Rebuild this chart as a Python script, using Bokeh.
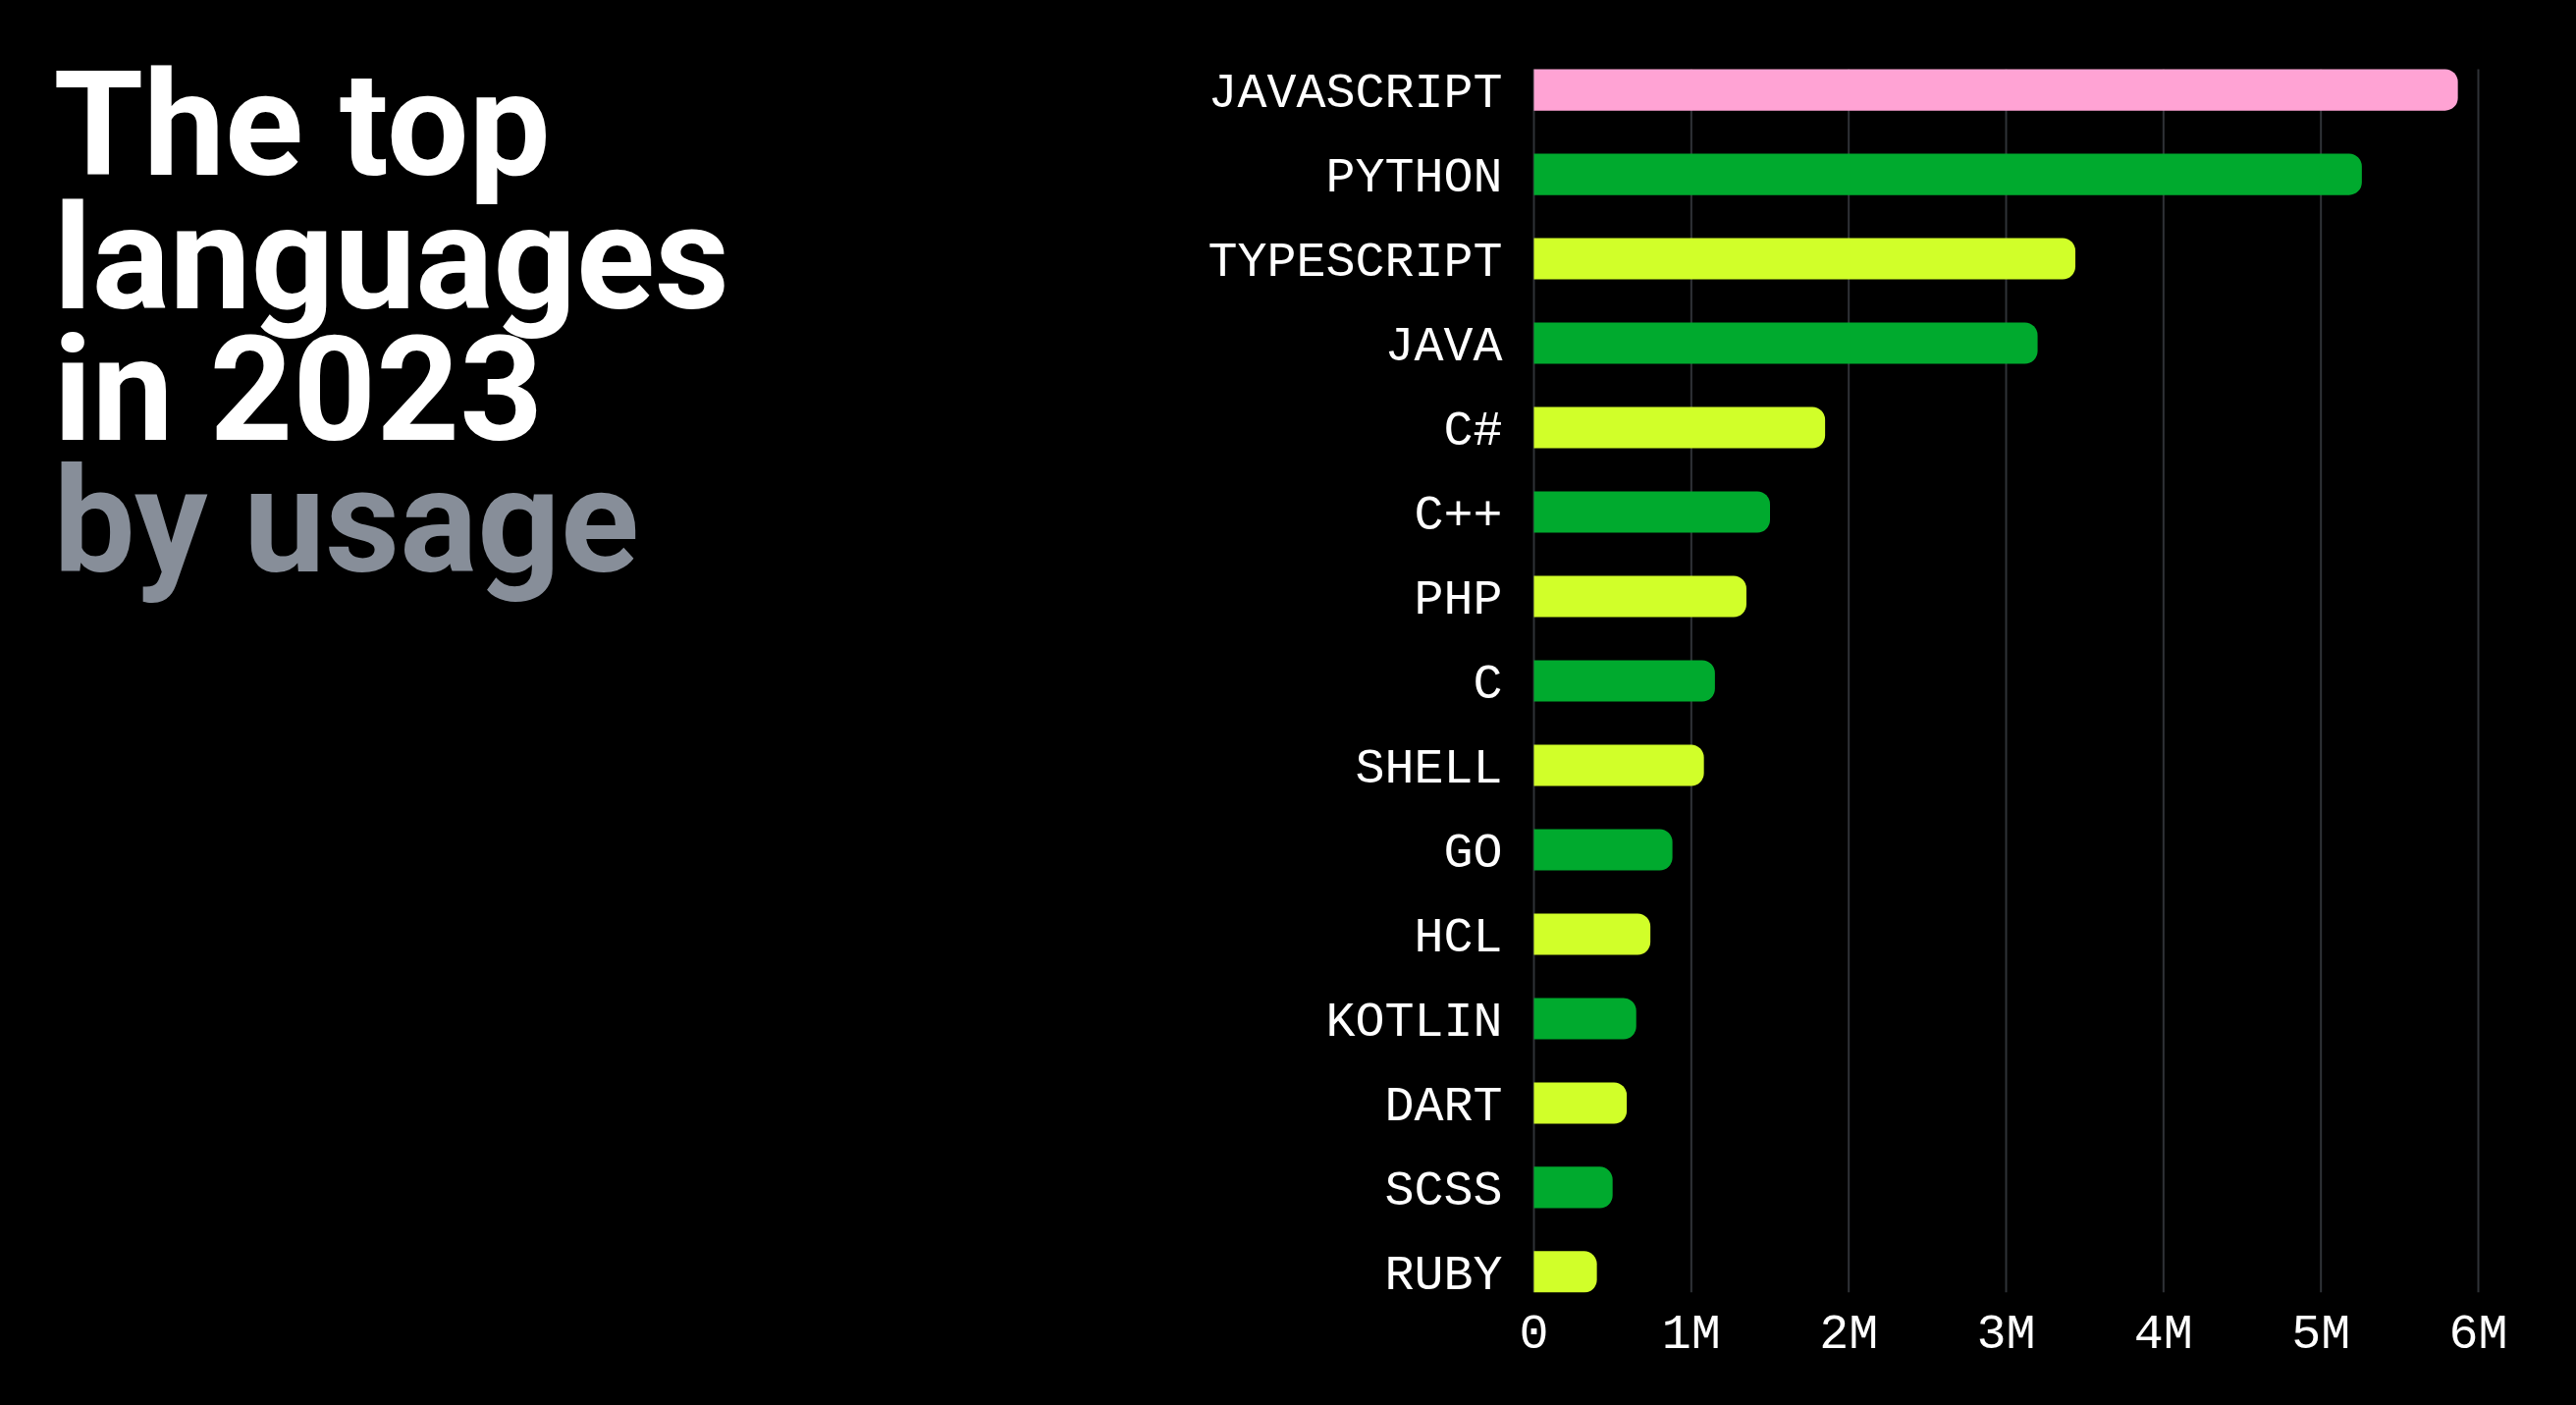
from bokeh.plotting import figure
from bokeh.models import Range1d, FixedTicker, ColumnDataSource, Label
from bokeh.core.properties import value
from bokeh.embed import file_html
from bokeh.resources import INLINE

# ---- data ----
languages = ["JAVASCRIPT", "PYTHON", "TYPESCRIPT", "JAVA", "C#", "C++", "PHP", "C",
             "SHELL", "GO", "HCL", "KOTLIN", "DART", "SCSS", "RUBY"]
usage_millions = [5.87, 5.26, 3.44, 3.20, 1.85, 1.50, 1.35, 1.15,
                  1.08, 0.88, 0.74, 0.65, 0.59, 0.50, 0.40]
x_ticks = [0, 1, 2, 3, 4, 5, 6]
x_tick_labels = ["0", "1M", "2M", "3M", "4M", "5M", "6M"]
title_lines = ["The top", "languages", "in 2023", "by usage"]

# ---- styles ----
PINK = "#FFA3D4"
GREEN = "#00AA2E"
LIME = "#D1FF29"
GRID = "#2F3237"
BG = "#000000"
title_colors = ["#FFFFFF", "#FFFFFF", "#FFFFFF", "#878E99"]
bar_colors = [PINK] + [GREEN if i % 2 == 1 else LIME for i in range(1, len(languages))]

n = len(languages)
ypos = [n - 1 - i for i in range(n)]
bar_h = 0.49
grid_y0 = [-bar_h / 2] * len(x_ticks)
grid_y1 = [n - 1 + bar_h / 2] * len(x_ticks)

src = ColumnDataSource(dict(y=ypos, v=usage_millions, color=bar_colors, name=languages))

# ---- layout (pixels) ----
W, H = 2600, 1420
ZERO_PX, SIX_PX = 1562, 2524          # where 0 and 6M sit on the canvas
FRAME_R = 2529
BAR_TOP, FRAME_B = 70, 1316
px_per_unit = (SIX_PX - ZERO_PX) / 6
pitch = (FRAME_B - BAR_TOP) / (n - 1 + bar_h)

p = figure(width=W, height=H,
           x_range=Range1d(-ZERO_PX / px_per_unit, (FRAME_R - ZERO_PX) / px_per_unit),
           y_range=Range1d(-bar_h / 2, n - 1 + bar_h / 2 + BAR_TOP / pitch),
           y_axis_type=None, output_backend="svg", toolbar_location=None,
           min_border_left=0, min_border_right=W - FRAME_R,
           min_border_top=0, min_border_bottom=H - FRAME_B,
           background_fill_color=BG, border_fill_color=BG, outline_line_color=None)
p.grid.visible = False

# vertical grid lines at the x ticks, spanning the bar area
p.segment(x0=x_ticks, x1=x_ticks, y0=grid_y0, y1=grid_y1, line_color=GRID, line_width=2)

p.hbar(y="y", left=0, right="v", height=bar_h, fill_color="color", line_color=None,
       source=src, border_radius=(0, 13, 13, 0))

# category labels at the left of the zero line
p.text(x=0, y="y", text="name", source=src, x_offset=-32, y_offset=4,
       text_align="right", text_baseline="middle",
       text_font=value("Liberation Mono"), text_font_size="50px", text_color="#FFFFFF")

p.xaxis.ticker = FixedTicker(ticks=x_ticks)
p.xaxis.major_label_overrides = {x: lab for x, lab in zip(x_ticks, x_tick_labels)}
p.xaxis.major_label_text_font = "Liberation Mono"
p.xaxis.major_label_text_font_size = "50px"
p.xaxis.major_label_text_color = "#FFFFFF"
p.xaxis.major_label_standoff = 8
p.xaxis.axis_line_color = None
p.xaxis.major_tick_line_color = None
p.xaxis.minor_tick_line_color = None

# ---- title (screen units relative to the frame's bottom-left) ----
title_baselines = [177, 313, 447, 581]   # from top of canvas
for line, color, base in zip(title_lines, title_colors, title_baselines):
    p.add_layout(Label(x=54, y=FRAME_B - (base - 50), x_units="screen", y_units="screen",
                       text=line, text_color=color, text_font="Roboto",
                       text_font_size="148px", text_font_style="bold",
                       text_baseline="alphabetic", text_align="left"))

html = file_html(p, INLINE, title="The top languages in 2023")
html = html.replace("</head>", "<style>html,body{background:#000000;}</style></head>", 1)
open("out.html", "w").write(html)
